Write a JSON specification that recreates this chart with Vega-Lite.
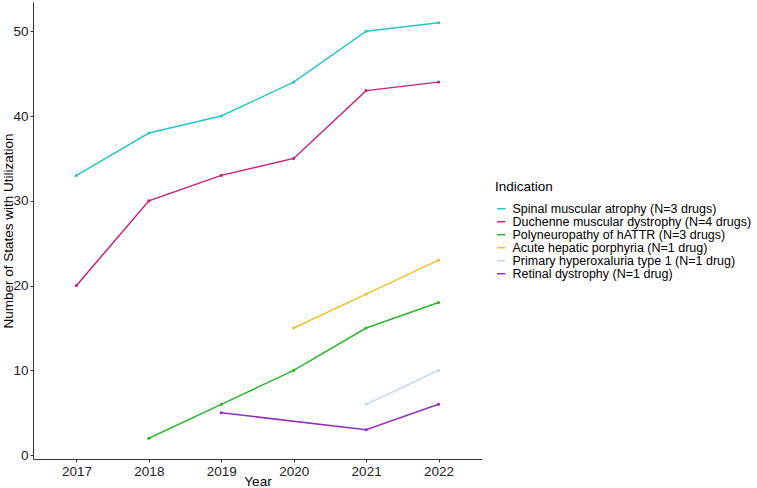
{
  "$schema": "https://vega.github.io/schema/vega-lite/v6.json",
  "width": 449,
  "height": 457,
  "autosize": {"type": "none"},
  "padding": {"left": 33, "top": 2, "right": 275, "bottom": 29},
  "background": "white",
  "config": {
    "view": {"stroke": null},
    "font": "Liberation Sans"
  },
  "data": {
    "values": [
      {"Year": 2017, "States": 33, "Indication": "Spinal muscular atrophy (N=3 drugs)"},
      {"Year": 2018, "States": 38, "Indication": "Spinal muscular atrophy (N=3 drugs)"},
      {"Year": 2019, "States": 40, "Indication": "Spinal muscular atrophy (N=3 drugs)"},
      {"Year": 2020, "States": 44, "Indication": "Spinal muscular atrophy (N=3 drugs)"},
      {"Year": 2021, "States": 50, "Indication": "Spinal muscular atrophy (N=3 drugs)"},
      {"Year": 2022, "States": 51, "Indication": "Spinal muscular atrophy (N=3 drugs)"},
      {"Year": 2017, "States": 20, "Indication": "Duchenne muscular dystrophy (N=4 drugs)"},
      {"Year": 2018, "States": 30, "Indication": "Duchenne muscular dystrophy (N=4 drugs)"},
      {"Year": 2019, "States": 33, "Indication": "Duchenne muscular dystrophy (N=4 drugs)"},
      {"Year": 2020, "States": 35, "Indication": "Duchenne muscular dystrophy (N=4 drugs)"},
      {"Year": 2021, "States": 43, "Indication": "Duchenne muscular dystrophy (N=4 drugs)"},
      {"Year": 2022, "States": 44, "Indication": "Duchenne muscular dystrophy (N=4 drugs)"},
      {"Year": 2018, "States": 2, "Indication": "Polyneuropathy of hATTR (N=3 drugs)"},
      {"Year": 2019, "States": 6, "Indication": "Polyneuropathy of hATTR (N=3 drugs)"},
      {"Year": 2020, "States": 10, "Indication": "Polyneuropathy of hATTR (N=3 drugs)"},
      {"Year": 2021, "States": 15, "Indication": "Polyneuropathy of hATTR (N=3 drugs)"},
      {"Year": 2022, "States": 18, "Indication": "Polyneuropathy of hATTR (N=3 drugs)"},
      {"Year": 2020, "States": 15, "Indication": "Acute hepatic porphyria (N=1 drug)"},
      {"Year": 2021, "States": 19, "Indication": "Acute hepatic porphyria (N=1 drug)"},
      {"Year": 2022, "States": 23, "Indication": "Acute hepatic porphyria (N=1 drug)"},
      {"Year": 2021, "States": 6, "Indication": "Primary hyperoxaluria type 1 (N=1 drug)"},
      {"Year": 2022, "States": 10, "Indication": "Primary hyperoxaluria type 1 (N=1 drug)"},
      {"Year": 2019, "States": 5, "Indication": "Retinal dystrophy (N=1 drug)"},
      {"Year": 2021, "States": 3, "Indication": "Retinal dystrophy (N=1 drug)"},
      {"Year": 2022, "States": 6, "Indication": "Retinal dystrophy (N=1 drug)"}
    ]
  },
  "encoding": {
    "x": {
      "field": "Year", "type": "quantitative",
      "scale": {"domain": [2016.4, 2022.6], "nice": false, "zero": false},
      "axis": {
        "values": [2017, 2018, 2019, 2020, 2021, 2022], "format": "d",
        "title": "Year", "titleFontSize": 13.5, "titleFontWeight": "normal", "titleColor": "#000",
        "titlePadding": -3,
        "labelFontSize": 13.5, "labelColor": "#222", "labelPadding": 2,
        "grid": false, "domainColor": "#333", "tickColor": "#333", "tickSize": 3, "labelFlush": false
      }
    },
    "y": {
      "field": "States", "type": "quantitative",
      "scale": {"domain": [-0.45, 53.45], "nice": false, "zero": false},
      "axis": {
        "values": [0, 10, 20, 30, 40, 50],
        "title": "Number of States with Utilization", "titleFontSize": 13.5, "titleFontWeight": "normal", "titleColor": "#000",
        "titlePadding": -3,
        "labelFontSize": 13.5, "labelColor": "#222", "labelPadding": 2,
        "grid": false, "domainColor": "#333", "tickColor": "#333", "tickSize": 3, "labelFlush": false
      }
    },
    "color": {
      "field": "Indication", "type": "nominal",
      "sort": [
        "Spinal muscular atrophy (N=3 drugs)",
        "Duchenne muscular dystrophy (N=4 drugs)",
        "Polyneuropathy of hATTR (N=3 drugs)",
        "Acute hepatic porphyria (N=1 drug)",
        "Primary hyperoxaluria type 1 (N=1 drug)",
        "Retinal dystrophy (N=1 drug)"
      ],
      "scale": {
        "domain": [
          "Spinal muscular atrophy (N=3 drugs)",
          "Duchenne muscular dystrophy (N=4 drugs)",
          "Polyneuropathy of hATTR (N=3 drugs)",
          "Acute hepatic porphyria (N=1 drug)",
          "Primary hyperoxaluria type 1 (N=1 drug)",
          "Retinal dystrophy (N=1 drug)"
        ],
        "range": ["#2AC3C8", "#C42479", "#2DB52D", "#EEBE2E", "#C5D6E3", "#9030BF"]
      },
      "legend": {
        "orient": "none", "legendX": 462, "legendY": 178,
        "title": "Indication", "titleFontSize": 13.5, "titleFontWeight": "normal", "titleColor": "#000",
        "titlePadding": 9,
        "labelFontSize": 12.5, "labelColor": "#000", "labelLimit": 400,
        "symbolType": "stroke", "symbolSize": 70, "symbolStrokeWidth": 1.5,
        "rowPadding": -1.5, "labelOffset": 5
      }
    }
  },
  "layer": [
    {"mark": {"type": "line", "strokeWidth": 1.5}},
    {"mark": {"type": "circle", "size": 10, "opacity": 1}}
  ]
}
